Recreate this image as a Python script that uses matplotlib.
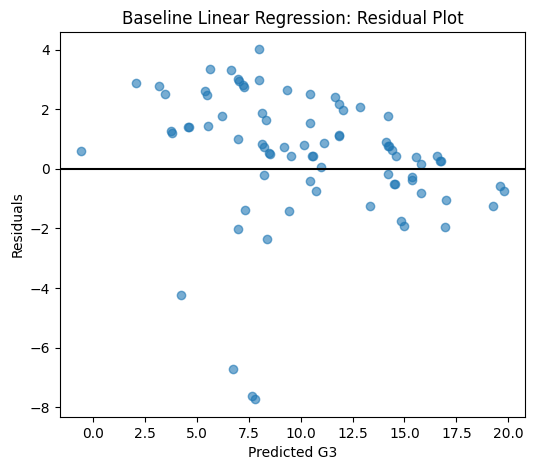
import matplotlib
matplotlib.use("Agg")
import matplotlib.pyplot as plt
import numpy as np

predicted = [
    -0.58, 2.05, 3.17, 3.46, 3.75, 3.82, 4.57, 4.60, 5.63, 5.37,
    5.48, 5.53, 6.20, 6.64, 6.96, 7.02, 7.21, 7.26, 6.96, 7.98,
    7.98, 8.13, 8.32, 8.13, 8.25, 8.46, 8.52, 9.22, 9.55, 9.33,
    8.22, 7.34, 7.00, 8.37, 9.42, 4.22, 6.73, 7.64, 7.79, 10.47,
    11.63, 11.83, 12.02, 12.87, 14.22, 10.47, 11.86, 11.86, 10.18, 11.11,
    10.56, 10.58, 10.96, 14.12, 14.22, 14.26, 14.41, 14.57, 15.56, 15.82,
    16.59, 16.73, 16.78, 14.23, 10.43, 10.72, 14.52, 14.50, 15.34, 15.34,
    15.82, 17.02, 19.62, 19.78, 19.28, 13.32, 14.83, 14.97, 16.97,
]
residuals = [
    0.59, 2.89, 2.80, 2.53, 1.26, 1.19, 1.40, 1.40, 3.36, 2.63,
    2.49, 1.45, 1.78, 3.33, 3.02, 2.96, 2.82, 2.74, 1.02, 4.01,
    2.99, 1.88, 1.65, 0.85, 0.72, 0.52, 0.51, 0.75, 0.44, 2.65,
    -0.22, -1.37, -2.01, -2.36, -1.40, -4.24, -6.72, -7.63, -7.74, 2.50,
    2.40, 2.18, 1.98, 2.08, 1.78, 1.53, 1.11, 1.13, 0.81, 0.88,
    0.44, 0.45, 0.05, 0.89, 0.78, 0.76, 0.63, 0.44, 0.41, 0.17,
    0.44, 0.27, 0.25, -0.18, -0.42, -0.73, -0.51, -0.49, -0.28, -0.36,
    -0.82, -1.03, -0.58, -0.73, -1.26, -1.26, -1.76, -1.91, -1.94,
]

fig = plt.figure(figsize=(5.35, 4.7), dpi=100)
ax = fig.add_axes([0.112, 0.1128, 0.869, 0.8192])
ax.scatter(predicted, residuals, alpha=0.6)
ax.axhline(0, color="black", linewidth=1.5)
ax.set_title("Baseline Linear Regression: Residual Plot")
ax.set_xlabel("Predicted G3")
ax.set_ylabel("Residuals")
fig.savefig("out.png", dpi=100)
